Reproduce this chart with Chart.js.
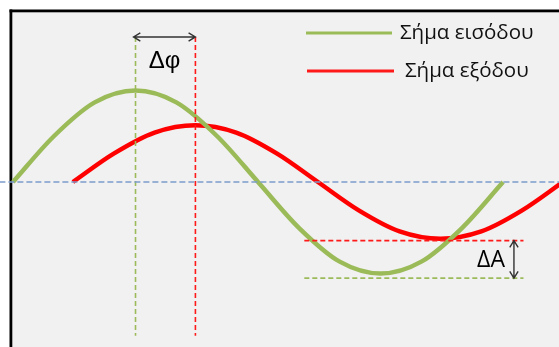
<!DOCTYPE html>
<html>
<head>
<meta charset="utf-8">
<script src="https://cdn.jsdelivr.net/npm/chart.js@4.4.1/dist/chart.umd.min.js"></script>
<style>
  html, body { margin: 0; padding: 0; background: #fff; }
  #wrap { width: 559px; height: 347px; }
</style>
</head>
<body>
<div id="wrap"><canvas id="myChart" width="559" height="347"></canvas></div>
<script>
// phase in degrees, amplitude in units of the input peak
const inputPhase = [0, 30, 60, 90, 120, 150, 180, 210, 240, 270, 300, 330, 360];
const inputSignal = [0, 0.5, 0.87, 1, 0.87, 0.5, 0, -0.5, -0.87, -1, -0.87, -0.5, 0];
const outputPhase = [44, 74, 104, 134, 164, 194, 224, 254, 284, 314, 344, 374, 404];
const outputSignal = [0, 0.31, 0.54, 0.62, 0.54, 0.31, 0, -0.31, -0.54, -0.62, -0.54, -0.31, 0];
const seriesLabels = ['Σήμα εισόδου', 'Σήμα εξόδου'];

// peaks used for the Δφ marker, troughs for the ΔA marker
const peakPhase = [90, 134];
const troughLevel = [-0.64, -1.05];
const markerSpan = [214, 375];
const guideTop = 1.585;
const guideBottom = -1.68;
const deltaLabels = ['Δφ', 'ΔA'];

const GREEN = '#9bbb59';
const RED = '#ff1a1a';
const BLUE = '#7c9ccb';

function pts(xs, ys) {
  return xs.map((x, i) => ({ x: x, y: ys[i] }));
}

function dashed(points, color, dash) {
  return {
    data: points,
    borderColor: color,
    borderWidth: 1.6,
    borderDash: dash,
    pointRadius: 0,
    tension: 0,
    order: 1
  };
}

const data = {
  datasets: [
    {
      label: seriesLabels[0],
      data: pts(inputPhase, inputSignal),
      borderColor: GREEN,
      borderWidth: 4.5,
      pointRadius: 0,
      cubicInterpolationMode: 'monotone',
      order: 2
    },
    {
      label: seriesLabels[1],
      data: pts(outputPhase, outputSignal),
      borderColor: '#ff0000',
      borderWidth: 4.5,
      pointRadius: 0,
      cubicInterpolationMode: 'monotone',
      order: 2
    },
    dashed([{ x: -10, y: 0 }, { x: 410, y: 0 }], BLUE, [6, 3]),
    dashed([{ x: peakPhase[0], y: guideTop }, { x: peakPhase[0], y: guideBottom }], GREEN, [5, 3]),
    dashed([{ x: peakPhase[1], y: guideTop }, { x: peakPhase[1], y: guideBottom }], RED, [5, 3]),
    dashed([{ x: markerSpan[0], y: troughLevel[0] }, { x: markerSpan[1], y: troughLevel[0] }], RED, [5, 3]),
    dashed([{ x: markerSpan[0], y: troughLevel[1] }, { x: markerSpan[1], y: troughLevel[1] }], GREEN, [5, 3])
  ]
};

// grey sheet with a heavy black edge on the top and the left
const sheet = {
  id: 'sheet',
  beforeDraw(chart) {
    const ctx = chart.ctx;
    ctx.save();
    ctx.fillStyle = '#ffffff';
    ctx.fillRect(0, 0, chart.width, chart.height);
    ctx.fillStyle = '#f1f1f1';
    ctx.fillRect(12, 12, chart.width - 12, chart.height - 12);
    ctx.fillStyle = '#000000';
    ctx.fillRect(9.5, 9.5, chart.width, 2.8);
    ctx.fillRect(9.5, 9.5, 2.8, chart.height);
    ctx.restore();
  }
};

function arrow(ctx, x1, y1, x2, y2) {
  const ang = Math.atan2(y2 - y1, x2 - x1);
  const len = 8, spread = 0.55;
  ctx.beginPath();
  ctx.moveTo(x1, y1);
  ctx.lineTo(x2, y2);
  [[x1, y1, ang], [x2, y2, ang + Math.PI]].forEach(([x, y, a]) => {
    ctx.moveTo(x + len * Math.cos(a + spread), y + len * Math.sin(a + spread));
    ctx.lineTo(x, y);
    ctx.lineTo(x + len * Math.cos(a - spread), y + len * Math.sin(a - spread));
  });
  ctx.stroke();
}

const marks = {
  id: 'marks',
  afterDatasetsDraw(chart) {
    const ctx = chart.ctx;
    const xs = chart.scales.x, ys = chart.scales.y;
    ctx.save();
    ctx.strokeStyle = '#333333';
    ctx.lineWidth = 1.4;

    // phase difference between the two peaks
    const yTop = ys.getPixelForValue(guideTop);
    const xa = xs.getPixelForValue(peakPhase[0]), xb = xs.getPixelForValue(peakPhase[1]);
    arrow(ctx, xa - 2, yTop, xb, yTop);

    // amplitude difference between the two troughs
    const xArr = xs.getPixelForValue(368);
    const ya = ys.getPixelForValue(troughLevel[0]), yb = ys.getPixelForValue(troughLevel[1]);
    arrow(ctx, xArr, ya, xArr, yb);

    ctx.fillStyle = '#000000';
    ctx.font = '24px "Liberation Sans", sans-serif';
    ctx.textBaseline = 'middle';
    ctx.textAlign = 'center';
    ctx.fillText(deltaLabels[0], (xa + xb) / 2 - 1, yTop + 24);
    ctx.font = '23px "Open Sans", sans-serif';
    ctx.textAlign = 'right';
    ctx.fillText(deltaLabels[1], xArr - 9, (ya + yb) / 2 + 1);

    // legend
    ctx.font = '20.5px "Open Sans", sans-serif';
    ctx.textAlign = 'left';
    const rows = [[GREEN, 33, 306, 392, 400], [RED, 71, 307, 394, 405]];
    rows.forEach(([color, y, l0, l1, tx], i) => {
      ctx.strokeStyle = color;
      ctx.lineWidth = 3;
      ctx.beginPath();
      ctx.moveTo(l0, y);
      ctx.lineTo(l1, y);
      ctx.stroke();
      ctx.fillStyle = '#111111';
      ctx.fillText(chart.data.datasets[i].label, tx, y);
    });
    ctx.restore();
  }
};

const config = {
  type: 'line',
  data,
  options: {
    responsive: false,
    animation: false,
    layout: { padding: 0 },
    scales: {
      x: { type: 'linear', display: false, min: -9.55, max: 401.1 },
      y: { display: false, min: -1.803, max: 1.989 }
    },
    plugins: {
      legend: { display: false },
      tooltip: { enabled: false }
    }
  },
  plugins: [sheet, marks]
};

const myChart = new Chart(document.getElementById('myChart'), config);
</script>
</body>
</html>
